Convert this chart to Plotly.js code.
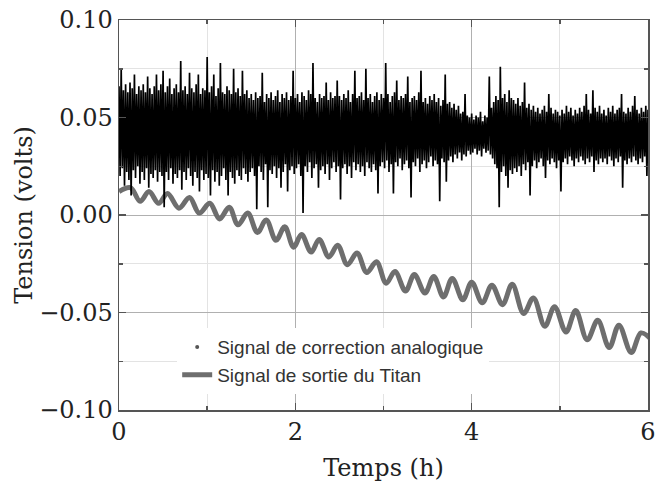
<!DOCTYPE html>
<html>
<head>
<meta charset="utf-8">
<script src="https://cdn.plot.ly/plotly-3.0.1.min.js"></script>
<style>html,body{margin:0;padding:0;background:#fff;}#chart{width:656px;height:486px;}</style>
</head>
<body>
<div id="chart"></div>
<script>
// ---- Data ----
// Analog correction signal: sampled every dt hours; for each sample the
// high and low excursion of the noisy trace, in millivolts.
const corrDt_h = 0.025;
const corrHigh_mV = [
 66,75,64,67,63,68,65,72,62,66,
 64,67,63,71,65,62,66,72,64,67,
 74,63,66,70,62,65,67,63,79,64,
 66,62,73,65,63,67,72,62,65,64,
 81,63,66,72,61,65,78,63,62,66,
 64,62,75,63,65,61,74,62,64,60,
 62,59,63,60,61,73,58,62,60,63,
 59,61,64,58,62,60,63,59,61,74,
 60,62,58,63,61,59,64,62,78,60,
 58,62,60,61,68,59,63,60,61,69,
 61,59,62,60,64,58,62,74,60,61,
 63,59,75,60,62,58,61,63,59,62,
 60,78,62,58,61,63,69,59,61,60,
 62,71,58,60,61,59,63,74,58,60,
 57,61,59,62,58,60,56,59,72,57,
 58,55,57,54,56,52,53,62,51,50,
 52,49,51,50,53,48,51,50,71,55,
 58,61,59,76,60,62,58,64,60,59,
 57,60,56,58,68,55,57,54,56,53,
 55,52,54,56,53,62,55,52,54,53,
 51,54,52,56,53,55,51,54,52,55,
 53,56,62,54,52,64,55,53,56,52,
 54,51,55,53,56,52,54,55,62,53,
 52,55,53,56,61,54,52,55,53,56,
 54
];
const corrLow_mV = [
 20,24,15,22,18,10,23,19,25,16,
 22,18,24,14,21,19,23,17,22,20,
 4,22,18,24,16,21,19,23,13,22,
 18,24,20,15,22,19,12,23,18,21,
 19,10,23,17,22,15,20,24,18,10,
 22,19,16,23,20,18,24,21,17,22,
 24,20,3,25,22,18,26,4,23,21,
 25,19,24,14,22,26,12,23,25,21,
 24,26,20,1,25,22,27,19,24,26,
 14,23,25,21,26,18,24,27,22,25,
 8,24,26,21,25,19,27,23,26,22,
 25,20,27,24,22,26,23,11,25,27,
 24,28,22,26,11,27,25,29,23,26,
 28,24,9,27,25,29,22,26,28,24,
 27,30,25,28,26,7,29,27,17,28,
 30,27,31,29,32,28,31,30,33,31,
 32,34,31,33,30,34,32,33,31,29,
 26,24,4,22,25,20,14,23,21,24,
 22,25,20,26,23,27,10,25,28,24,
 27,29,25,19,28,26,29,27,24,28,
 12,27,29,26,30,28,25,29,27,30,
 28,26,29,27,30,22,28,26,29,27,
 29,26,30,28,25,29,27,30,14,28,
 26,29,27,30,28,26,29,27,30,20,
 28
];
// Titan output signal: successive crests and troughs (hours, millivolts)
const titanT_h = [
 0.00,0.13,0.24,0.34,0.45,0.55,0.68,0.80,0.91,1.03,
 1.14,1.25,1.35,1.46,1.57,1.67,1.78,1.88,1.98,2.07,
 2.18,2.27,2.38,2.48,2.59,2.70,2.81,2.92,3.03,3.13,
 3.25,3.35,3.47,3.57,3.68,3.78,3.90,4.00,4.12,4.23,
 4.35,4.46,4.59,4.70,4.83,4.94,5.07,5.18,5.31,5.43,
 5.56,5.67,5.81,5.92,6.02
];
const titanV_mV = [
 12,14,7,12,6,11,3.5,9,1,6,
 -2,4,-5,1,-9,-2.5,-13,-6,-16.5,-10,
 -19,-12.5,-21.5,-15.5,-25.5,-19.5,-29.5,-24,-35,-29,
 -39,-30.5,-40,-31.5,-42,-32.5,-43.5,-34.5,-45,-36,
 -46,-35.5,-50.5,-42.5,-57,-47,-60,-49,-64,-54,
 -68,-56.5,-70.5,-60.5,-63
];
const xTickVals = [0,2,4,6];
const yTickVals = [-0.10,-0.05,0.00,0.05,0.10];
const seriesNames = ['Signal de correction analogique','Signal de sortie du Titan'];

// ---- Build traces ----
const corrX = [], corrY = [];
for (let i = 0; i < corrHigh_mV.length; i++) {
  corrX.push(i * corrDt_h);              corrY.push(corrHigh_mV[i] / 1000);
  corrX.push(i * corrDt_h + corrDt_h/2); corrY.push(corrLow_mV[i] / 1000);
}
const titanY = titanV_mV.map(v => v / 1000);

const serif = 'DejaVu Serif, serif';
const sans = 'Liberation Sans, Arial, sans-serif';

const data = [
  {name: seriesNames[1], x: titanT_h, y: titanY, mode: 'lines',
   line: {color: '#6e6e6e', width: 5, shape: 'spline', smoothing: 1}, legendrank: 2, hoverinfo: 'skip'},
  {name: seriesNames[0], x: corrX, y: corrY, mode: 'lines',
   line: {color: '#000000', width: 1.7}, showlegend: false, hoverinfo: 'skip'},
  {name: seriesNames[0], x: [null], y: [null], mode: 'markers',
   marker: {color: '#555555', size: 4}, legendrank: 1}
];

const axisCommon = {
  ticks: 'inside', ticklen: 7, tickwidth: 1.5, tickcolor: '#555',
  showline: true, linecolor: '#555', linewidth: 1.5, mirror: 'ticks',
  showgrid: true, gridcolor: '#b0b0b0', gridwidth: 1, zeroline: false,
  tickfont: {family: serif, size: 24, color: '#222'}
};

const layout = {
  width: 656, height: 486,
  margin: {l: 119, r: 8, t: 20, b: 76},
  paper_bgcolor: '#fff', plot_bgcolor: '#fff',
  showlegend: true,
  legend: {x: 0.11, y: 0.21, xanchor: 'left', yanchor: 'top',
           bgcolor: '#ffffff', borderwidth: 0,
           font: {family: sans, size: 19, color: '#333'}},
  xaxis: Object.assign({}, axisCommon, {
    range: [0, 6], tickvals: xTickVals, ticktext: xTickVals.map(String),
    ticklabeloverflow: 'allow',
    minor: {dtick: 1, tick0: 0, ticks: 'inside', ticklen: 4, tickcolor: '#555', showgrid: true, gridcolor: '#e3e3e3'},
    title: {text: 'Temps (h)', font: {family: serif, size: 24, color: '#222'}, standoff: 14}
  }),
  yaxis: Object.assign({}, axisCommon, {
    range: [-0.1, 0.1], tickvals: yTickVals, tickformat: '.2f',
    minor: {dtick: 0.025, tick0: 0, ticks: 'inside', ticklen: 4, tickcolor: '#555', showgrid: true, gridcolor: '#e3e3e3'},
    title: {text: 'Tension (volts)', font: {family: serif, size: 24, color: '#222'}, standoff: 0}
  })
};

Plotly.newPlot('chart', data, layout, {staticPlot: true, displayModeBar: false});
</script>
</body>
</html>
